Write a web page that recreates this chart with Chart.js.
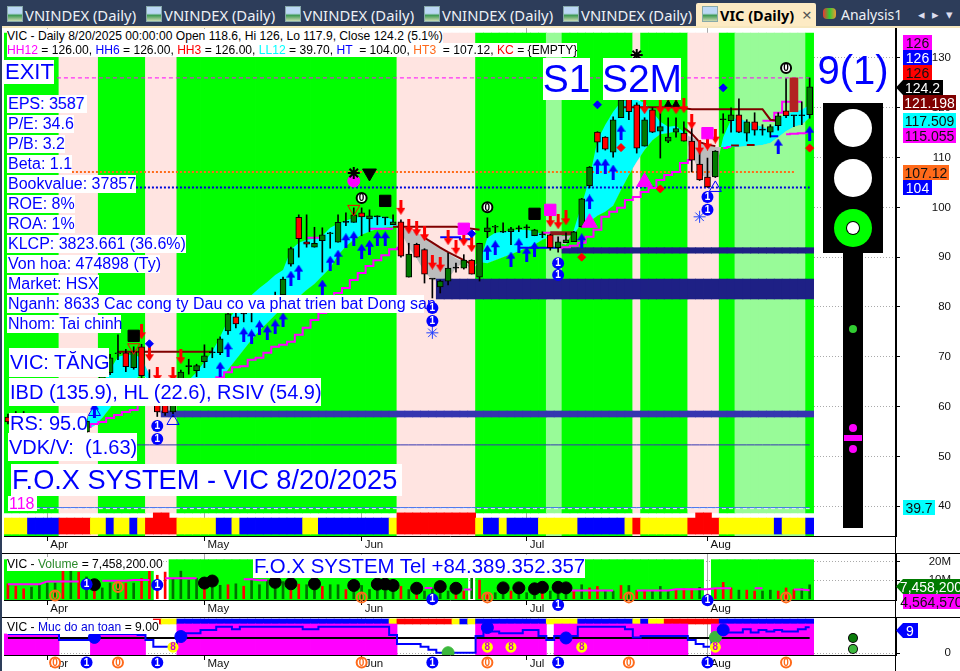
<!DOCTYPE html>
<html><head><meta charset="utf-8">
<style>
html,body{margin:0;padding:0;width:960px;height:671px;overflow:hidden;background:#fff;font-family:"Liberation Sans",Arial,sans-serif}
canvas{position:absolute;left:0}
.lab{position:absolute;white-space:pre;background:#fff;color:#0000ff;box-sizing:border-box;display:flex;align-items:center;padding-left:1px}
.tag{position:absolute;white-space:pre;font-size:14px;display:flex;align-items:center;justify-content:center;box-sizing:border-box}
.tab{position:absolute;top:5px;color:#eef1f6;font:14.8px "Noto Sans",sans-serif;white-space:pre}
.ico{position:absolute;top:6px;width:14px;height:14px;background:linear-gradient(#bcd8f5 45%,#3f9a55 60%,#c8d8b0);border:1px solid #8aa}
.leg{position:absolute;left:7px;background:#fff;font-size:12.1px;white-space:pre;line-height:14px;height:14px;color:#000}
.blk{position:absolute;background:#000}.circ{position:absolute;border-radius:50%}
.rule{position:absolute;background:#000}
</style>
<script src="https://cdn.jsdelivr.net/npm/chart.js@4/dist/chart.umd.min.js"></script>
</head><body>
<div id="tabs" style="position:absolute;left:0;top:0;width:960px;height:26px;background:#2d3d5a"></div>
<div style="position:absolute;left:0;top:26px;width:960px;height:2px;background:#f6e7bd"></div>
<div style="position:absolute;left:0;top:26px;width:2px;height:645px;background:#2d3d5a"></div>
<canvas id="paneA" width="960" height="525" style="top:28px"></canvas>
<canvas id="paneB" width="960" height="64" style="top:553px"></canvas>
<canvas id="paneC" width="960" height="54" style="top:617px"></canvas>
<div class="rule" style="left:2px;top:553px;width:894px;height:1px"></div>
<div class="rule" style="left:2px;top:617px;width:894px;height:1px"></div>
<div class="rule" style="left:895px;top:28px;width:1px;height:643px"></div>
<div class="rule" style="left:896px;top:553px;width:64px;height:1px"></div>
<div class="rule" style="left:896px;top:617px;width:64px;height:1px"></div>
<div id="overlay"></div>
<script>
// ---- categories ----
const monthBars=[5,25,45,66,89];
const monthNames=['Apr','May','Jun','Jul','Aug'];
const priceTicks=[40,50,60,70,80,90,100,110,120,130];
const volumeTicks=[10,20];
const safetyTicks=[0];
// ---- candles, 103 daily bars ending 8/20/2025 ----
const opens=[57.9,58,58.5,57.5,57,56.5,56,57,57.5,57,54.9,60.3,62.9,66.8,70.6,70.8,67.8,72,63,62.3,63.3,58.9,62.9,68,67.2,69,70.8,70.8,75.2,78,78.6,80,80.2,80.5,81.5,82.4,88.6,98,93.1,92,93.3,94.7,93,97,97,98.9,97.7,98.1,97.9,96.5,97.1,86,92.6,91.5,85.6,84,85.2,87.8,87.8,89.4,86,95.1,96,95,95.1,95.7,95.9,94.3,94.5,94.5,91.9,92.9,93.1,96.1,104.3,115.1,114.1,111.1,118,122,120.6,112.3,119.6,115.3,113.3,115.1,114.9,113.3,108.7,106.1,106.1,117.6,117.4,118.6,114.9,117.2,115.5,115.1,116.4,119.4,118.4,118.4,118.6];
const highs=[58.5,59,59,58,58,57.5,57.5,58,58,58,58,64.5,66.8,70.5,74.4,71.5,72,72.5,67.4,63,64,62,67.3,69.5,68.5,72.4,71.8,74,79,80,79.5,81,81.5,82,83,86,92,98.5,98.5,96,95.9,95,98.5,98.9,99.9,99.9,99.5,98.3,98,98.5,97.5,92.8,92.8,91.7,85.6,85.4,90.8,88.8,90.5,89.5,92.8,97.9,96.4,96.9,96,96.3,96.5,95.6,95.1,94.6,94.1,94.9,95.2,101.8,108.2,115.2,114.2,118.2,122,122.5,121,118,120,119,118,118,117.2,116,111.5,109.9,111.4,118.8,120,121.8,117.6,119,116.6,116.6,119,125.8,118.5,121.2,126];
const lows=[56.5,57,57,56,55.5,55.5,55,56,56,55.5,54.4,60,62,66.4,69.4,67,67.5,65.5,61,58,58.2,58,62,66.5,66,67.8,69.8,70.4,74.5,75.8,77,77,79,79,80,82,88.2,90,92,92,87,91.8,93,96.3,97,94.3,95.1,96.5,96.5,96.5,90,86,90,84.8,81.8,82.8,84.4,87,87.6,86.6,85.2,93.9,94.9,94.9,92.5,95.1,93.9,94.3,93.9,91.4,91,92.9,93.1,96,103.9,111.1,111.5,110.1,118,117.6,110.9,112.3,115,109.9,113,114.1,113.3,107.1,105.4,104,106,114.9,115.1,115,113.3,114.5,114.5,114.1,115.5,118,116.2,116.6,117.9];
const closes=[56.9,58.5,57.5,56.5,56,57,57,57.5,57,56,57.1,64.3,66.4,69.8,70.7,68,71,66.2,63.2,58.9,58.7,61.7,66.9,68,68.2,70.2,70.8,73.6,78.6,76.6,78.6,80.1,80.8,81.5,82,85.6,91.7,93.7,92.6,92.8,94.5,94.8,97,97,98.5,98.1,98.3,98.1,97.9,97.1,90.2,90.6,90,86.6,85.6,85.2,87.8,87.8,89.4,86.6,92.8,95.9,96.1,95,95.7,95.7,95.9,95.5,94.5,91.9,93.1,93.5,95.1,101.7,108.1,113.1,111.7,117.6,121.6,119.2,111.9,117.6,115.1,116.2,114.1,115.8,113.3,109.5,105.5,104.1,111.3,117.6,118.6,115.1,117.2,115.5,115.5,116.2,118.4,118.4,118.4,118.4,124.2];
// ---- ribbon (fast / slow) ----
const fastRibbon=[null,null,null,null,null,null,null,null,null,55.7,57.3,60.3,64.3,67.4,70,70.4,70.4,69.8,66.4,58.9,58.3,58.7,62.9,65.3,66.9,69,71,74,77.4,79.4,81.4,82.4,83.8,85,86.4,87.4,91.5,92.9,93.5,93.7,94.3,95.9,96.7,97.3,97.9,98.1,98.1,98.1,98.1,97.5,95.1,91.9,89.8,87,85.4,85.2,85.6,87.8,89,87.4,89,93.9,94.9,95.1,95.3,95.5,95.5,95.1,94.7,93.5,92.9,92.5,95.5,100.5,105.9,113.5,116.6,119.2,121.2,121.6,121.6,121,119.2,117.2,116.2,116.4,115.1,110.5,107.1,105.5,107.1,114.1,117.6,118,117.2,116.6,116.2,115.5,117.6,118.8,119.2,119.6,120.6];
const slowRibbon=[null,null,null,null,null,null,null,null,null,54.9,55.3,56.1,57.7,59.7,62.3,64.3,65.3,66.4,65.3,62.9,61.3,60.1,62.3,62.9,63.3,63.7,64.3,65.3,67.4,69.4,71.4,73.4,75.2,76.8,78.4,80,80.8,82,83.4,84.6,86.2,87.8,90.4,92.2,93.5,94.5,95.1,95.7,95.9,96.1,95.9,95.5,94.9,94.1,93.1,91.9,90.8,89.8,89,88.2,89,88.8,89.4,90,90.6,91.2,91.9,92.5,93.5,94.1,94.3,94.3,94.5,96.9,97.1,98.3,99.1,100.3,103.5,106.5,109.1,111.5,113.5,114.7,114.9,115.3,114.7,114.1,113.3,112.5,112.1,112.1,112.1,112.1,112.3,112.3,112.5,112.9,114.1,115.3,116.2,116.6,118];
// ---- stepped trail lines, [bar,price] ----
const trailLine=[[8,54.9],[9,55.3],[10,55.9],[11,56.5],[12,56.9],[13,57.7],[14,58.3],[15,58.9],[16,59.3],[17,60.3],[18,60.5],[19,60.9],[20,61.3],[21,61.9],[22,62.5],[23,63.1],[24,63.7],[25,64.3],[26,65.1],[27,65.9],[28,66.9],[29,67.9],[30,68.1],[31,69.4],[32,69.8],[33,70.8],[34,72],[35,72.4],[36,73],[37,74.4],[38,75.8],[39,77.4],[40,78.8],[41,80.8],[42,82.8],[43,83.8],[44,85.4],[45,86.8],[46,88.2],[47,89.4],[48,90.4],[49,91.6],[50,91.9],[51,null],[70,91.9],[71,92],[72,92.3],[73,92.9],[74,94.1],[75,95.5],[76,98.1],[77,99.1],[78,99.9],[79,101.5],[80,102.1],[81,103.1],[82,103.9],[83,105.5],[84,106.5],[85,107.1],[86,108.9],[87,109.5],[88,null],[91,111.9],[92,112.1],[93,null],[99,114.7],[100,114.8],[101,114.9],[102,115.055]];
const upperMagenta=[[38,93.9],[39,93.9],[40,93.9],[41,null],[46,95.7],[47,95.7],[48,95.7],[49,95.7],[50,null],[68,94.9],[69,94.9],[70,94.9],[71,null],[96,117.4],[97,117.4],[98,119],[99,121.2],[100,121.2],[101,121.2]];
const blueSteps=[[55,94],[56,94],[57,94],[58,93.6],[59,93.6],[60,null],[65,91.9],[66,91.9],[67,91.9],[68,91.9],[69,91.9],[70,91.9],[71,null],[97,114.3],[98,114.3]];
const darkRedSteps=[[14,71],[15,71],[16,71],[17,71],[18,71],[19,71],[20,71],[21,71],[22,71],[23,71],[24,71],[25,71],[26,71],[27,null],[49,96.1],[50,96.1],[51,96.1],[52,96.1],[53,96.1],[54,96.1],[55,96.1],[56,96.1],[57,96.1],[58,95.9],[59,95.7],[60,95.5],[61,null],[78,120.1],[79,120.1],[80,120.1],[81,120.1],[82,120.1],[83,120.1],[84,120.1],[85,120.1],[86,119.9],[87,119.7],[88,119.7],[89,119.7],[90,119.7],[91,119.7],[92,119.7],[93,119.7],[94,119.7],[95,119.7],[96,119.7],[97,117.6],[98,117.4]];
const darkRedCurve=[[53,93.9],[54,92.9],[55,91.9],[56,91],[57,90.2],[58,89.4],[59,88.6],[60,null],[86,116],[87,114.8],[88,113.1],[89,112.6],[90,112.3],[91,null],[92,112.4],[93,112.4],[93.6,null],[94,112.5],[95,112.5]];
const darkRedThick=[[69,94.8],[70,94.8],[71,94.8],[72,94.8]];
// ---- levels ----
const hh12=126, ht3=107.12, ht=104, ll12=39.7, vdkLine=52.3;
const navyBarA=[90.8,91.9], navyBarB=[81.6,85.6], navyBarC=[57.9,59.1];
const navyStartA=71, navyStartB=55, navyStartC=20;
const brownBlock=[119.2,126], brownBar=100;
// ---- band colour codes as runs ----
const bandRuns=[['g',7],['p',5],['g',6],['p',4],['g',28],['p',10],['g',9],['l',2],['g',9],['p',1],['g',6],['p',4],['g',2],['l',9],['g',1]];
const stripRuns=[['y',3],['b',4],['r',4],['y',2],['b',1],['y',2],['b',1],['y',1],['r',4],['y',5],['b',2],['y',1],['b',8],['y',2],['b',9],['y',1],['r',10],['y',1],['b',2],['y',1],['b',4],['y',5],['b',6],['y',1],['r',1],['y',6],['r',4],['y',7],['b',1],['y',3],['b',1]];
const stripBumpBars=[19,20,50,51,52,53,54,55,56,57,58,59,88,89];
const volumeWhiteBars=[19,20,59,89];
const safetyStripRuns=[['n',19],['r',1],['y',2],['b',27],['y',1],['r',7],['y',1],['b',1],['y',1],['b',9],['y',4],['b',7],['y',1],['b',1],['y',2],['r',7],['b',12]];
const safetyBandRuns=[[6.7,7],[0,4],[6.7,7],[0,4],[10.14,28],[0,10],[10.14,9],[0,1],[10.14,17],[0,3],[10.14,13]];
// ---- volume, millions ----
const volumesM=[8,6.7,5.3,6.2,7.5,8.4,8.4,16,15.1,14.3,11.7,4.1,5.8,8.4,8.4,8.4,8.4,10.9,15.6,12.6,14.3,10.9,14.8,10,10.9,10,6.2,7.2,7.5,8,6.7,10,7.5,10,9.2,9.2,6.6,7.8,7.5,7.5,6.6,7.5,7.5,4.9,4.1,7.1,4.9,4.9,4.1,4.1,6.6,4.9,2.4,4.1,5.8,4.1,4.1,3.2,4.1,11.7,10,2.4,3.2,2.4,4.1,4.1,3.2,3.2,4.1,4.1,4.1,5.8,4.1,7.5,5.8,6.6,4.1,4.1,7.1,7.1,4.4,4.4,4.1,6.6,4.1,4.9,5.4,5.4,6.1,2.4,5.4,8.8,5.8,4.6,4.6,4.1,4.1,4.6,4.1,5.8,4.9,5.4,7.458];
const volumeSides='rrrggggrgrgrgggrgrrrrggggrggrgrgggggrrggrggrggggggrgrggggrrgrrggrgggrgggrgrrggrgrrgggrrrgrrrrgrrggrrrg';
const volumeMA=[[0,7.8],[1,7.8],[2,7.8],[3,7.8],[4,7.8],[5,9.3],[6,9.3],[7,9.3],[8,9.3],[9,9.3],[10,null],[12,9.7],[13,9.7],[14,9.7],[15,9.7],[16,10],[17,10],[18,10],[19,null],[20,11],[21,11],[22,11],[23,11],[24,11],[25,null],[30,10.5],[31,10.5],[32,9.9],[33,9.9],[34,null],[53,5.8],[54,5.8],[55,null],[58,5],[59,5],[60,null],[71,4.4],[72,4.4],[73,4.4],[74,4.4],[75,4.4],[76,4.4],[77,4.4],[78,null],[80,4.4],[81,4.4],[82,4.4],[83,4.4],[84,4.4],[85,5.1],[86,5.1],[87,5.1],[88,5.1],[89,5.1],[90,5.6],[91,5.6],[92,5.6],[93,null],[95,5.6],[96,5.6],[97,null],[100,4.9],[101,4.9],[102,4.56]];
const volumeBlackDots=[[11,7.5],[25,8.4],[26,9.5],[34,8.8],[36,8],[39,8],[44,7.1],[47,7.8],[48,7.8],[49,7.1],[52,5.6],[55,6.5],[57,5.6],[63,5.8],[65,5.8],[67,5.3],[68,6.1],[70,6.1],[71,5.8]];
const volumeOrange=[[6,1.7],[14,6.3],[45,.7],[61,.7],[79,.7],[99,.7]];
const volumeBlue=[[10,7.8],[19,7.3],[54,-.3],[70,-3.4],[89,-.8]];
// ---- safety level ----
const safetyLevel=[6.7,6.7,6.7,6.7,6.7,6.7,6.7,4.6,4.6,4.6,4.6,5.5,6.7,6.7,6.7,6.7,6.7,6.3,4.6,2.3,2.3,2.3,5.5,6.9,6.9,8.1,8.1,9.2,9.2,8.3,9.2,9.2,9.2,9.2,9.2,9.2,9.2,9.2,8.3,8.3,9.2,9.2,9.2,9.2,9.2,9.2,9.2,9.2,9.2,6.3,3.2,3.2,3.2,2.3,1.2,.2,.2,.2,.2,.2,6,8.9,7.5,6.9,6.9,6.9,8.1,8.1,6,4.6,6,5.3,6,9.2,9.2,9.2,9.2,9.2,9.2,8.3,5.5,6,6,6,6,6,6,4.6,3.2,2.3,5.5,8.1,7.2,7.2,8.3,7.2,8.1,7.5,8.1,7.5,7.5,8.3,9];
const safetyMid=5.3;
const safetyBlueDots=[[11,5.5],[22,5.8],[61,8.9],[71,5.3],[91,8.1]];
const safetyGreenDots=[[56,.2],[90,5.5]];
const safetyEights=[[21,2.1],[61,2.1],[64,2.1],[73,2.1],[90,2.1]];
const safetyOrange=[[6,-3.2],[14,-3.2],[45,-3.2],[61,-3.2],[79,-3.2],[99,-3.2]];
const safetyBlue=[[10,-3.2],[19,-3.2],[54,-3.2],[70,-3.2],[89,-3.2]];
// ---- main markers, [bar,price] ----
const upArrows=[[11,59.3],[27,67.5],[28,71.4],[30,74.4],[31,74],[32,75.8],[33,74.8],[34,76],[35,77.4],[36,85.8],[37,87],[40,84],[41,88.8],[42,90],[43,93.3],[44,93.7],[45,91.2],[46,92],[47,93.7],[48,93.7],[61,91],[62,91.9],[64,89.6],[65,92.3],[66,90.6],[67,91.6],[73,93.3],[74,101.1],[75,108.3],[76,108.3],[77,107.1],[78,115.1],[98,112.3],[102,114.9]];
const downArrows=[[17,75],[18,70.6],[19,66.4],[21,66.4],[22,70],[50,100],[51,96.1],[52,95.7],[53,94.7],[54,89],[55,88.6],[56,93.9],[57,92],[58,93.7],[59,92.5],[69,97.5],[70,97.1],[71,97.9],[81,120.2],[83,120.2],[84,120.6],[85,120.2],[86,120.4],[87,117.2],[88,112.1],[89,112.9],[90,114.3]];
const blackSquares=[[16,74.2],[48,101.3],[67,98.7]];
const magentaSquares=[[58,95.7],[69,99.5],[89,114.9]];
const magentaTriangles=[[74,96.9],[81,105.1]];
const hollowTriangles=[[11,58.9],[21,57.1],[90,103.9]];
const blueDiamonds=[[18,72.6],[59,94.7],[75,120.6],[91,124]];
const redDiamonds=[[73,90],[78,112],[83,103.7],[102,111.9]];
const blackDownTriangles=[[46,106.9]];
const smallBlackTriangles=[[84,120.7],[85,120.7]];
const hollowRedDown=[[16,71.9],[44,99.7]];
const magentaDots=[[44,105.3]];
const blackStars=[[44,106.9],[80,130.6]];
const zeroMarks=[[45,101.9],[61,100],[99,128]];
const oneMarks=[[54,79.8],[54,77.2],[19,56.1],[19,53.5],[70,88.8],[70,86.4],[89,102.1],[89,99.5]];
const snowMarks=[[54,74.8],[88,98.1]];

const BAR_PX=7.86, X_MAX=892/BAR_PX, N=opens.length;
const C={g:'#00ff00',p:'#ffe4e1',l:'#98fb98',y:'#ffff00',b:'#0000ff',r:'#ff0000'};
const expand=r=>r.flatMap(([c,n])=>Array(n).fill(c));
const bandCodes=expand(bandRuns), stripCodes=expand(stripRuns), safetyStrip=expand(safetyStripRuns), safetyBand=expand(safetyBandRuns);
const idx=[...Array(N).keys()];
const xy=a=>a.map((v,i)=>({x:i+.5,y:v}));
const pr=a=>a.map(([i,v])=>({x:i+.5,y:v}));
const span=(a,b,v)=>idx.filter(i=>i>=a&&i<=b).map(i=>({x:i+.5,y:v}));
const bars=(data,color,thick,o,extra={})=>({type:'bar',data,backgroundColor:color,barThickness:thick,order:o,stack:'s',borderWidth:0,borderSkipped:false,...extra});
const line=(data,color,w,o,extra={})=>({type:'line',data,borderColor:color,borderWidth:w,pointRadius:0,fill:false,tension:0,order:o,spanGaps:false,...extra});
const pts=(data,style,r,color,o,extra={})=>({type:'line',data,showLine:false,pointStyle:style,pointRadius:r,pointBackgroundColor:color,pointBorderColor:color,pointBorderWidth:1,order:o,...extra});
const rings=(data,o,ring,glyph,glyphColor)=>({type:'line',data,showLine:false,pointRadius:0,order:o,clip:false,ring,glyph,glyphColor});
function arrowImg(color,up){const c=document.createElement('canvas');c.width=9;c.height=15;const g=c.getContext('2d');g.fillStyle=color;g.beginPath();
 if(up){g.moveTo(4.5,0);g.lineTo(9,7);g.lineTo(6,7);g.lineTo(6,15);g.lineTo(3,15);g.lineTo(3,7);g.lineTo(0,7);}
 else{g.moveTo(3,0);g.lineTo(6,0);g.lineTo(6,8);g.lineTo(9,8);g.lineTo(4.5,15);g.lineTo(0,8);g.lineTo(3,8);}
 g.closePath();g.fill();return c;}

const glyphPlugin={id:'glyphs',afterDatasetsDraw(chart){const g=chart.ctx;g.save();g.textAlign='center';g.textBaseline='middle';
 chart.data.datasets.forEach((d,k)=>{if(!d.glyph)return;chart.getDatasetMeta(k).data.forEach(p=>{
   if(d.ring){g.beginPath();g.arc(p.x,p.y,d.ring.r,0,Math.PI*2);if(d.ring.fill){g.fillStyle=d.ring.fill;g.fill();}if(d.ring.stroke){g.strokeStyle=d.ring.stroke;g.lineWidth=d.ring.lw||2;g.stroke();}}
   g.font='bold 10px "Liberation Sans"';g.fillStyle=d.glyphColor;g.fillText(d.glyph,p.x,p.y+.5);});});g.restore();}};
function base(ticksY,minY,maxY,h,fmt){return{
 responsive:false,animation:false,events:[],layout:{autoPadding:false,padding:{left:4,right:9,top:0,bottom:0}},
 plugins:{legend:{display:false},tooltip:{enabled:false}},
 scales:{
  x:{type:'linear',min:0,max:X_MAX,offset:false,border:{color:'#000',width:1},
    grid:{offset:false,color:'#aaa',drawTicks:true,tickLength:5,tickColor:'#000',tickBorderDash:[]},
    afterBuildTicks(s){s.ticks=monthBars.map(i=>({value:i+.5}));},
    afterFit(s){s.height=h;s.paddingLeft=0;s.paddingRight=0;},
    ticks:{autoSkip:false,maxRotation:0,align:'start',labelOffset:3,padding:-3,color:'#111',font:{family:'"Liberation Sans"',size:11.5},
      callback:v=>monthNames[monthBars.indexOf(Math.floor(v))]||''}},
  y:{position:'right',min:minY,max:maxY,stacked:false,border:{color:'#000',width:1,dash:[1,2]},
    grid:{color:'#aaa',tickLength:4,tickColor:'#000',tickBorderDash:[]},
    afterBuildTicks(s){s.ticks=ticksY.map(v=>({value:v}));},
    afterFit(s){s.width=55;s.paddingTop=0;s.paddingBottom=0;},
    ticks:{padding:2,crossAlign:'far',color:'#111',autoSkip:false,font:{family:'"Liberation Sans"',size:11.5},callback:fmt}}
 }};}

// ---- pane A ----
const candleColor=idx.map(i=>closes[i]===opens[i]?'#000':closes[i]>opens[i]?'#007a00':'#ff0000');
new Chart(document.getElementById('paneA'),{data:{datasets:[
 bars(idx.map(i=>({x:i+.5,y:[38.64,135]})),idx.map(i=>C[bandCodes[i]]),8,100),
 bars(idx.map(i=>({x:i+.5,y:[34,34.4]})),idx.map(i=>C[bandCodes[i]]),8,99),
 bars(idx.map(i=>({x:i+.5,y:[34.4,stripBumpBars.includes(i)?38.64:37.6]})),idx.map(i=>C[stripCodes[i]]),8,98),
 line(xy(fastRibbon),'rgba(0,0,0,0)',0,90,{fill:{target:'+1',above:'#00ffff',below:'#bdbdbd'}}),
 line(xy(slowRibbon),'rgba(0,0,0,0)',0,91),
 line(span(0,102,hh12),'#ff00ff',1,60,{borderDash:[4,3]}),
 line(span(0,100,ht3),'#ff6a1a',2,60,{borderDash:[2,2]}),
 line(span(0,102,ht),'#0000dd',2,60,{borderDash:[2,2]}),
 line(span(0,102,vdkLine),'#3535b0',1,60),
 line(span(0,102,ll12-.2),'#ffffff',1,60,{borderDash:[4,3]}),
 line(span(0,102,ll12),'#3a6ef0',1,59),
 bars(span(navyStartA,102,navyBarA),'#1e2085',8,58),
 bars(span(navyStartB,102,navyBarB),'#1e2085',8,58),
 bars(span(navyStartC,102,navyBarC),'#3535b0',8,58),
 line(pr(trailLine),'#ff00ff',2,40,{stepped:'middle'}),
 line(pr(upperMagenta),'#ff00ff',2,40,{stepped:'middle'}),
 line(pr(blueSteps),'#0000ff',2,39,{stepped:'middle'}),
 line(pr(darkRedSteps),'#800000',2,38,{tension:0}),
 line(pr(darkRedCurve),'#800000',2,38),
 line(pr(darkRedThick),'#8b1a1a',4,38),
 bars([{x:brownBar+.5,y:brownBlock}],'#b22222',8,35),
 bars(idx.map(i=>({x:i+.5,y:[lows[i],highs[i]]})),'#000',1,30),
 bars(idx.map(i=>({x:i+.5,y:[opens[i],closes[i]]})),candleColor,6,29,{borderWidth:1,borderColor:'#000',minBarLength:1}),
 pts(pr(upArrows),arrowImg('#0000ff',true),8,'#00f',10),
 pts(pr(downArrows),arrowImg('#ff0000',false),8,'#f00',10),
 pts(pr(blackSquares),'rect',8,'#000',9),
 pts(pr(magentaSquares),'rect',8,'#ff00ff',9),
 pts(pr(magentaTriangles),'triangle',9,'#ff00ff',9),
 pts(pr(hollowTriangles),'triangle',7,'#00f',8,{pointBackgroundColor:'rgba(0,0,0,0)'}),
 pts(pr(blueDiamonds),'rectRot',4,'#0000ff',8),
 pts(pr(redDiamonds),'rectRot',4,'#ff0000',8),
 pts(pr(blackDownTriangles),'triangle',8,'#000',8,{rotation:180}),
 pts(pr(smallBlackTriangles),'triangle',4,'#000',8),
 pts(pr(hollowRedDown),'triangle',7,'#ff0000',8,{rotation:180,pointBackgroundColor:'rgba(0,0,0,0)'}),
 pts(pr(magentaDots),'circle',6,'#ff00ff',8),
 pts(pr(blackStars),'star',6,'#000',7,{pointBorderWidth:2}),
 rings(pr(zeroMarks),6,{r:5,fill:'#fff',stroke:'#000',lw:2},'0','#000'),
 rings(pr(oneMarks),6,{r:6,fill:'#0000ff'},'1','#fff'),
 pts(pr(snowMarks),'star',6,'#2040ff',6,{pointBorderWidth:1}),
]},options:base(priceTicks,34,136.02,17,v=>String(v)),plugins:[glyphPlugin]});

// ---- pane B ----
new Chart(document.getElementById('paneB'),{data:{datasets:[
 bars(idx.filter(i=>!volumeWhiteBars.includes(i)).map(i=>({x:i+.5,y:[-1,21]})),'#00ff00',8,100),
 bars(idx.map(i=>({x:i+.5,y:[0,volumesM[i]]})),idx.map(i=>volumeSides[i]==='r'?'#ff0000':'#007000'),2,50),
 line(pr(volumeMA),'#ff00ff',2,40),
 pts(pr(volumeBlackDots),'circle',6,'#000',20),
 rings(pr(volumeOrange),10,{r:5,stroke:'#ff6a1a',lw:2},'0','#ff6a1a'),
 rings(pr(volumeBlue),10,{r:6,fill:'#0000ff'},'1','#fff'),
]},options:base(volumeTicks,-.71,24.57,17,v=>v+'M'),plugins:[glyphPlugin]});
// ---- pane C ----
new Chart(document.getElementById('paneC'),{data:{datasets:[
 bars(idx.filter(i=>safetyStrip[i]!=='n').map(i=>({x:i+.5,y:[10.14,11.87]})),idx.filter(i=>safetyStrip[i]!=='n').map(i=>C[safetyStrip[i]]),8,100),
 bars(idx.filter(i=>safetyBand[i]>0).map(i=>({x:i+.5,y:[-1,safetyBand[i]]})),'#ff00ff',8,99),
 line(span(0,102,safetyMid),'#000',2,50),
 line(xy(safetyLevel),'#0000ff',2,45,{stepped:'middle'}),
 pts(pr(safetyBlueDots),'circle',6,'#0000ff',30),
 pts(pr(safetyGreenDots),'circle',6,'#3cb83c',30),
 rings(pr(safetyEights),20,{r:5.5,fill:'#ffff00'},'8','#d000d0'),
 rings(pr(safetyOrange),10,{r:5,fill:'#fff',stroke:'#ff6a1a',lw:2},'0','#ff6a1a'),
 rings(pr(safetyBlue),10,{r:6,fill:'#0000ff'},'1','#fff'),
]},options:base(safetyTicks,-.59,12.56,16,v=>String(v)),plugins:[glyphPlugin]});

// ---- overlay text and furniture ----
const ov=document.getElementById('overlay');
function lab(t,x,y,w,h,fs,extra=''){const d=document.createElement('div');d.className='lab';d.textContent=t;d.style.cssText=`left:${x}px;top:${y}px;width:${w}px;height:${h}px;font-size:${fs}px;${extra}`;ov.appendChild(d);}
function tag(t,x,y,w,h,bg,fg,ptr){const d=document.createElement('div');d.className='tag';d.textContent=t;d.style.cssText=`left:${x}px;top:${y}px;width:${w}px;height:${h}px;background:${bg};color:${fg};`+(ptr?'clip-path:polygon(0 50%,7px 0,100% 0,100% 100%,7px 100%);padding-left:6px;':'');ov.appendChild(d);}
const leftStats=['EPS: 3587','P/E: 34.6','P/B: 3.2','Beta: 1.1','Bookvalue: 37857','ROE: 8%','ROA: 1%','KLCP: 3823.661 (36.6%)','Von hoa: 474898 (Ty)','Market: HSX','Nganh: 8633 Cac cong ty Dau co va phat trien bat Dong san','Nhom: Tai chinh'];
const leftWidths=[80,67,58,65,129,68,68,179,153,92,417,114];
leftStats.forEach((t,i)=>lab(t,7,95+i*20,leftWidths[i],18,16));
lab('EXIT',4,60,50,24,22);
lab('VIC: TĂNG',9,348,100,29,20);
lab('IBD (135.9), HL (22.6), RSIV (54.9)',9,378,312,28,20);
lab('RS: 95.0',9,413,78,21,20);
lab('VDK/V:  (1.63)',8,433,129,28,20);
lab('F.O.X SYSTEM - VIC 8/20/2025',11,464,391,32,27.2);
lab('118',8,496,29,15,16,'color:#ff00ff;');
lab('S1',543,58,47,42,39,'justify-content:center;padding:0;');
lab('S2M',603,58,78,42,39,'justify-content:center;padding:0;');
lab('9(1)',818,50,70,40,40,'background:none;justify-content:center;padding:0;');
lab('F.O.X SYSTEM Tel +84.389.352.357',253,555,332,23,20.4);
// legends
function leg(html,top,w){const d=document.createElement('div');d.className='leg';d.innerHTML=html;d.style.top=top+'px';if(w)d.style.width=w+'px';ov.appendChild(d);}
leg('VIC - Daily 8/20/2025 00:00:00 Open 118.6, Hi 126, Lo 117.9, Close 124.2 (5.1%)',29);
leg('<span style="color:#f0f">HH12</span> = 126.00, <span style="color:#00f">HH6</span> = 126.00, <span style="color:#f00">HH3</span> = 126.00, <span style="color:#0ff">LL12</span> = 39.70, <span style="color:#00f">HT</span>  = 104.00, <span style="color:#ff6a1a">HT3</span>  = 107.12, <span style="color:#f00">KC</span> = {EMPTY}',43);
leg('VIC - <span style="color:#2a8a2a">Volume</span> = 7,458,200.00',557);
leg('VIC - <span style="color:#0000e0">Muc do an toan</span> = 9.00',620);
// price tags
tag('126',903,35,29,15,'#ff00ff','#111');
tag('126',903,50,29,15,'#0000ff','#fff');
tag('126',903,65,29,15,'#ff0000','#111');
tag('124.2',896,80,47,15,'#000','#fff',true);
tag('121.198',903,95,53,15,'#800000','#fff');
tag('117.509',903,113,53,15,'#00ffff','#111');
tag('115.055',903,128,53,15,'#ff00ff','#111');
tag('107.12',903,165,46,15,'#ff6a1a','#111');
tag('104',903,180,29,15,'#0000ff','#fff');
tag('39.7',903,500,32,15,'#00ffff','#111');
tag('7,458,200',896,579,64,15,'#007a00','#fff',true);
tag('4,564,570',903,594,57,15,'#ff00ff','#111');
tag('9',896,623,22,15,'#0000ff','#fff',true);
// traffic light
const box=(x,y,w,h,bg,cls='blk')=>{const d=document.createElement('div');d.className=cls;d.style.cssText=`left:${x}px;top:${y}px;width:${w}px;height:${h}px;background:${bg}`;ov.appendChild(d);};
box(823,103,60,150,'#000');box(843,253,20,275,'#000');
box(834,109,38,38,'#fff','circ');box(834,159,38,38,'#fff','circ');box(834,209,38,38,'#00ff00','circ');
box(846,221,14,14,'#000','circ');box(847,222,12,12,'#fff','circ');
box(849,325,8,8,'#32cd32','circ');box(849,424,8,8,'#ff00ff','circ');box(849,445,8,8,'#ff00ff','circ');box(844,435,18,6,'#ff00ff');
box(848,633,10,10,'#000','circ');box(849,634,8,8,'#0a7a0a','circ');box(848,644,10,10,'#000','circ');box(849,645,8,8,'#3cb83c','circ');
// tabs
const tabs=document.getElementById('tabs');
[25,164,303,442,581].forEach(x=>{const i=document.createElement('div');i.className='ico';i.style.left=(x-18)+'px';tabs.appendChild(i);const t=document.createElement('div');t.className='tab';t.textContent='VNINDEX (Daily)';t.style.left=x+'px';tabs.appendChild(t);});
const act=document.createElement('div');act.style.cssText='position:absolute;left:696px;top:3px;width:120px;height:23px;background:#fdebc4;border-radius:2px 2px 0 0';tabs.appendChild(act);
const ai=document.createElement('div');ai.className='ico';ai.style.left='702px';tabs.appendChild(ai);
const at=document.createElement('div');at.className='tab';at.textContent='VIC (Daily)';at.style.cssText='left:720px;color:#000;font-weight:bold;font-size:14.5px';tabs.appendChild(at);
const ax=document.createElement('div');ax.className='tab';ax.textContent='×';ax.style.cssText='left:802px;color:#555;top:3px;font-size:17px';tabs.appendChild(ax);
const an=document.createElement('div');an.className='tab';an.textContent='Analysis1';an.style.cssText='left:841px;font-size:14px';tabs.appendChild(an);
const ac=document.createElement('div');ac.style.cssText='position:absolute;left:823px;top:8px;width:13px;height:11px;background:linear-gradient(90deg,#e33,#3c3 50%,#e93);border-radius:4px';tabs.appendChild(ac);
const ar=document.createElement('div');ar.className='tab';ar.textContent='◂  ▸  ▾';ar.style.cssText='left:918px;top:5px;color:#dde;font-size:13px';tabs.appendChild(ar);
</script>
</body></html>
